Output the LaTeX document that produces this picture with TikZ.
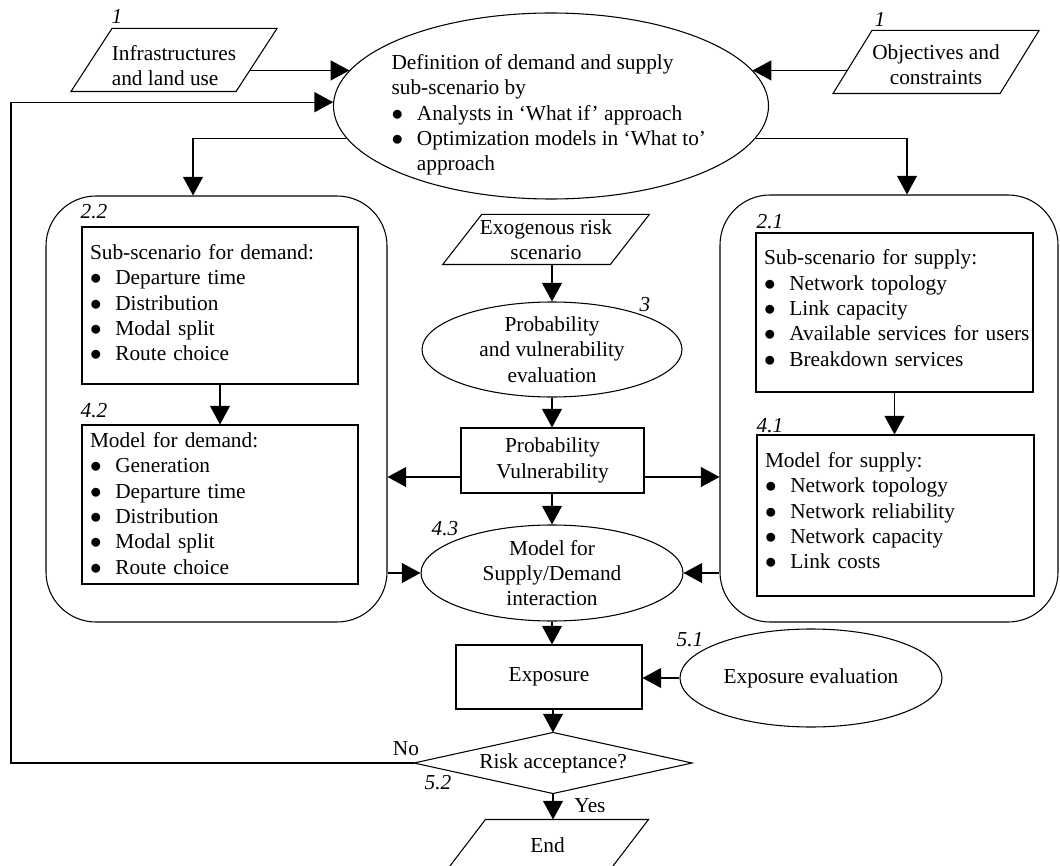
\documentclass[tikz,border=0pt]{standalone}
\usepackage{fontspec}
\setmainfont{Liberation Serif}
\usetikzlibrary{arrows.meta,calc,shapes.geometric}
\newcommand\bl[1]{\mbox{\makebox[19pt][l]{\smash{$\bullet$}}#1}}
\newcommand\dn[1]{\rule[-#1]{0pt}{#1}}
\newcommand\drawpara[2]{\draw ($(#1.north west)+(#2,0)$) -- ($(#1.north east)+(#2,0)$) -- ($(#1.south east)+(-#2,0)$) -- ($(#1.south west)+(-#2,0)$) -- cycle;}
\begin{document}
\begin{tikzpicture}[x=0.75pt,y=-0.75pt, line width=0.8pt,
  every node/.style={font=\fontsize{16}{19}\selectfont},
  arr/.style={-{Triangle[length=14pt,width=15pt]}},
  box/.style={draw, rectangle, inner sep=0pt},
  listbox/.style={draw, rectangle, inner xsep=6pt, inner ysep=0pt, align=left, text width=#1},
  para/.style={rectangle, inner sep=0pt, align=center},
  ell/.style={draw, ellipse, inner xsep=0pt, inner ysep=-3pt, align=center},
  rbox/.style={draw, rectangle, rounded corners=37.5pt, inner sep=0pt},
  num/.style={font=\fontsize{16}{19}\selectfont\itshape, inner sep=0pt},
  plain/.style={inner sep=0pt}]
\path[use as bounding box, fill=white] (0,0) rectangle (1060,866);

% top
\node[para, align=left, minimum width=123pt, minimum height=46.5pt] (infra) at (174,60) {\rule{0pt}{19.6pt}Infrastructures\\and land use};
\drawpara{infra}{20.5}
\node[para, minimum width=124.5pt, minimum height=46.5pt] (obj) at (936,62) {\rule{0pt}{15.4pt}Objectives and\\constraints};
\drawpara{obj}{19.5}
\node[num] (n1a) at (117,16) {1};
\node[num] (n1b) at (880,19) {1};

\node[draw, ellipse, minimum width=326.25pt, minimum height=139.5pt, inner sep=0pt] (T) at (551,106) {};
\node[anchor=west, align=left, inner sep=0pt] (Ttext) at (391,115) {Definition of demand and supply\\ sub-scenario by\\ \bl{Analysts in ‘What if’ approach}\\ \bl{Optimization models in ‘What to’}\\ \hspace{19pt}approach};

% left group
\node[rbox, minimum width=255.75pt, minimum height=319.5pt] (L) at (216.5,409) {};
\node[num] (n22) at (94,212) {2.2};
\node[listbox=195pt, minimum height=117.75pt] (d1) at (220,305.5) {Sub-scenario for demand:\\ \bl{Departure time}\\ \bl{Distribution}\\ \bl{Modal split}\\ \bl{Route choice}\dn{4.5pt}};
\node[num] (n42) at (94,411) {4.2};
\node[listbox=195pt, minimum height=119.25pt] (d2) at (220,504.5) {Model for demand:\\ \bl{Generation}\\ \bl{Departure time}\\ \bl{Distribution}\\ \bl{Modal split}\\ \bl{Route choice}\dn{2pt}};

% right group
\node[rbox, minimum width=253.5pt, minimum height=320.25pt] (R) at (889,408.5) {};
\node[num] (n21) at (770,222) {2.1};
\node[listbox=195.75pt, minimum height=119.25pt] (s1) at (894.5,312.5) {Sub-scenario for supply:\\ \bl{Network topology}\\ \bl{Link capacity}\\ \bl{Available services for users}\\ \bl{Breakdown services}\dn{7pt}};
\node[num] (n41) at (770,426) {4.1};
\node[listbox=195.75pt, minimum height=120.75pt] (s2) at (895.5,515.5) {Model for supply:\\ \bl{Network topology}\\ \bl{Network reliability}\\ \bl{Network capacity}\\ \bl{Link costs}\dn{7.5pt}};

% centre column
\node[para, minimum width=124.9pt, minimum height=36.75pt] (exo) at (546,239.5) {Exogenous risk\\scenario};
\drawpara{exo}{19.5}
\node[ell, minimum width=195pt, minimum height=71.25pt] (e3) at (552,349.5) {Probability\\and vulnerability\\evaluation};
\node[num] (n3) at (645,305) {3};
\node[box, minimum width=137.25pt, minimum height=48.75pt, align=center] (PV) at (552.5,460.5) {Probability\\Vulnerability};
\node[ell, minimum width=196.5pt, minimum height=72pt] (M) at (552,573) {Model for\\Supply/Demand\\interaction};
\node[num] (n43) at (445,529) {4.3};
\node[box, minimum width=139.5pt, minimum height=48pt] (Ex) at (549,677) {Exposure};
\node[ell, minimum width=196.5pt, minimum height=73.5pt] (E51) at (811,678) {Exposure evaluation};
\node[num] (n51) at (690,640) {5.1};
\node[para, minimum width=207.75pt, minimum height=45pt] (D) at (553,763) {Risk acceptance?};
\draw (D.north) -- (D.east) -- (D.south) -- (D.west) -- cycle;
\node[plain] (no) at (406,749) {No};
\node[num] (n52) at (438,783) {5.2};
\node[plain] (yes) at (590,806) {Yes};
\node[para, minimum width=121.5pt, minimum height=37.5pt] (End) at (547.5,845) {End};
\drawpara{End}{19.5}
\coordinate (fb) at (11,0);

% connectors
\draw[arr] ($(infra.east |- T.170)+(-7,0)$) -- (T.170);
\draw[arr] ($(obj.west |- T.10)+(-5.4,0)$) -- (T.10);
\draw[arr] (D.west) -- (D.west -| fb) -- (fb |- T.179) -- (T.179);
\draw[arr] (T.189) -| ($(L.north)+(-23.5,0)$);
\draw[arr] (T.351) -| ($(R.north)+(18,0)$);
\draw[arr] (d1.south) -- (d2.north);
\draw[arr] (s1.south) -- (s1.south |- s2.north);
\draw[arr] (exo.south -| e3.north) -- (e3.north);
\draw[arr] (e3.south) -- (e3.south |- PV.north);
\coordinate (pvl) at ($(PV.west)+(0,16.5)$);
\coordinate (pvr) at ($(PV.east)+(0,16.5)$);
\draw[arr] (pvl) -- (pvl -| L.east);
\draw[arr] (pvr) -- (pvr -| R.west);
\draw[arr] (PV.south -| M.north) -- (M.north);
\draw[arr] (M.west -| L.east) -- (M.west);
\draw[arr] (M.east -| R.west) -- (M.east);
\draw[arr] (M.south) -- (M.south |- Ex.north);
\draw[arr] (E51.west) -- (E51.west -| Ex.east);
\draw[arr] (Ex.south -| D.north) -- (D.north);
\draw[arr] (D.south) -- (D.south |- End.north);
\end{tikzpicture}
\end{document}
